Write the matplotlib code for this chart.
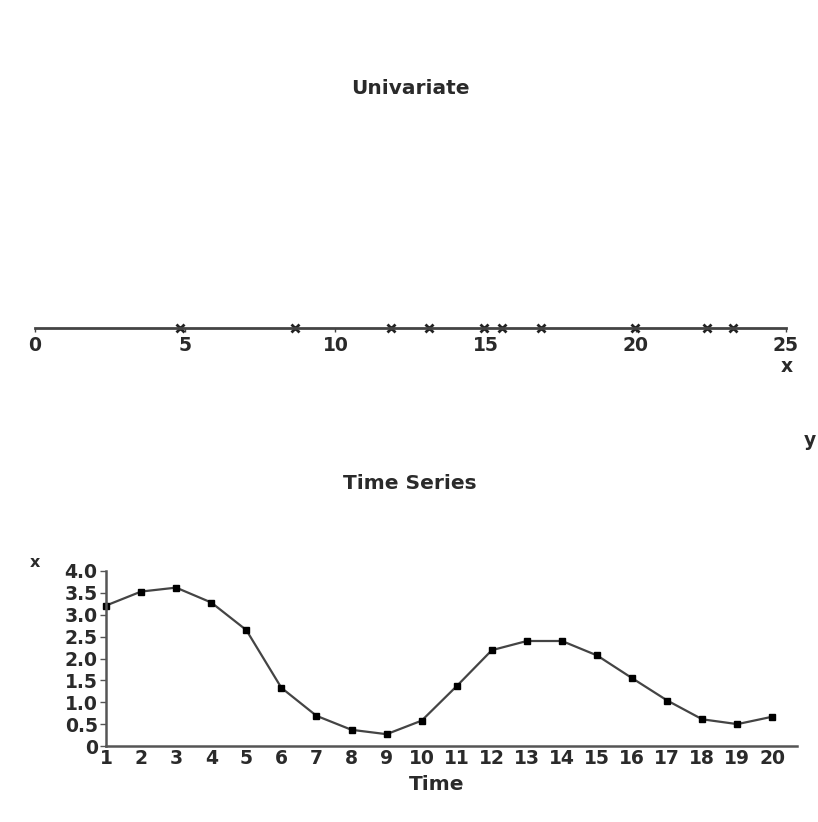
import matplotlib
matplotlib.use("Agg")
import matplotlib.pyplot as plt

# Univariate sample values (top strip)
uni_values = [4.83, 8.66, 11.85, 13.12, 14.95, 15.55, 16.84, 19.97, 22.37, 23.24]
uni_ticks = [0, 5, 10, 15, 20, 25]

# Time series
time = list(range(1, 21))
series_x = [3.21, 3.53, 3.62, 3.28, 2.65, 1.33, 0.69, 0.37, 0.27, 0.58,
            1.37, 2.19, 2.40, 2.40, 2.07, 1.55, 1.04, 0.61, 0.50, 0.67]
y_ticks = [0, 0.5, 1.0, 1.5, 2.0, 2.5, 3.0, 3.5, 4.0]
y_ticklabels = ["0", "0.5", "1.0", "1.5", "2.0", "2.5", "3.0", "3.5", "4.0"]

W, H = 818, 822
fig = plt.figure(figsize=(W / 100, H / 100), dpi=100)
fig.patch.set_facecolor("white")
TC = "#2a2a2a"
FS = 13.5
FW = "bold"

# ---- Top: univariate strip ----
ax1 = fig.add_axes([35 / W, 1 - 328 / H, (786 - 35) / W, 0.05])
ax1.set_xlim(0, 25)
ax1.set_ylim(0, 1)
for s in ["top", "left", "right"]:
    ax1.spines[s].set_visible(False)
ax1.spines["bottom"].set_linewidth(2)
ax1.spines["bottom"].set_color("#444444")
ax1.set_yticks([])
ax1.set_xticks(uni_ticks)
ax1.set_xticklabels([str(t) for t in uni_ticks], fontsize=FS, color=TC, fontweight=FW)
ax1.tick_params(axis="x", length=3, width=1, color="#444444", pad=3)
ax1.plot(uni_values, [0] * len(uni_values), linestyle="none", marker="x",
         markersize=6, markeredgewidth=2, color="#222222", clip_on=False)
fig.text(787 / W, 1 - 366 / H, "x", fontsize=FS, color=TC, ha="center", va="center", fontweight=FW)
fig.text(816 / W, 1 - 441 / H, "y", fontsize=FS, color=TC, ha="right", va="center", fontweight=FW)
fig.text(410 / W, 1 - 89 / H, "Univariate", fontsize=14.5, color=TC, ha="center", va="center", fontweight=FW)

# ---- Bottom: time series ----
ax2 = fig.add_axes([106 / W, 1 - 746 / H, (797 - 106) / W, (746 - 571) / H])
ax2.plot(time, series_x, color="#444444", linewidth=1.6, marker="s",
         markersize=5, markerfacecolor="black", markeredgecolor="black", clip_on=False)
ax2.set_xlim(1, 20.7)
ax2.set_ylim(0, 4.0)
for s in ["top", "right"]:
    ax2.spines[s].set_visible(False)
for s in ["left", "bottom"]:
    ax2.spines[s].set_linewidth(1.8)
    ax2.spines[s].set_color("#555555")
ax2.set_xticks(time)
ax2.set_xticklabels([str(t) for t in time], fontsize=FS, color=TC, fontweight=FW)
ax2.set_yticks(y_ticks)
ax2.set_yticklabels(y_ticklabels, fontsize=FS, color=TC, fontweight=FW)
ax2.tick_params(axis="y", length=4, width=1, color="#555555", pad=2)
ax2.tick_params(axis="x", length=0, pad=2)
fig.text(437 / W, 1 - 784 / H, "Time", fontsize=14.5, color=TC, ha="center", va="center", fontweight=FW)
fig.text(35 / W, 1 - 562 / H, "x", fontsize=FS - 2, color=TC, ha="center", va="center", fontweight=FW)
fig.text(410 / W, 1 - 483 / H, "Time Series", fontsize=14.5, color=TC, ha="center", va="center", fontweight=FW)

fig.savefig("out.png", dpi=100, facecolor="white")
